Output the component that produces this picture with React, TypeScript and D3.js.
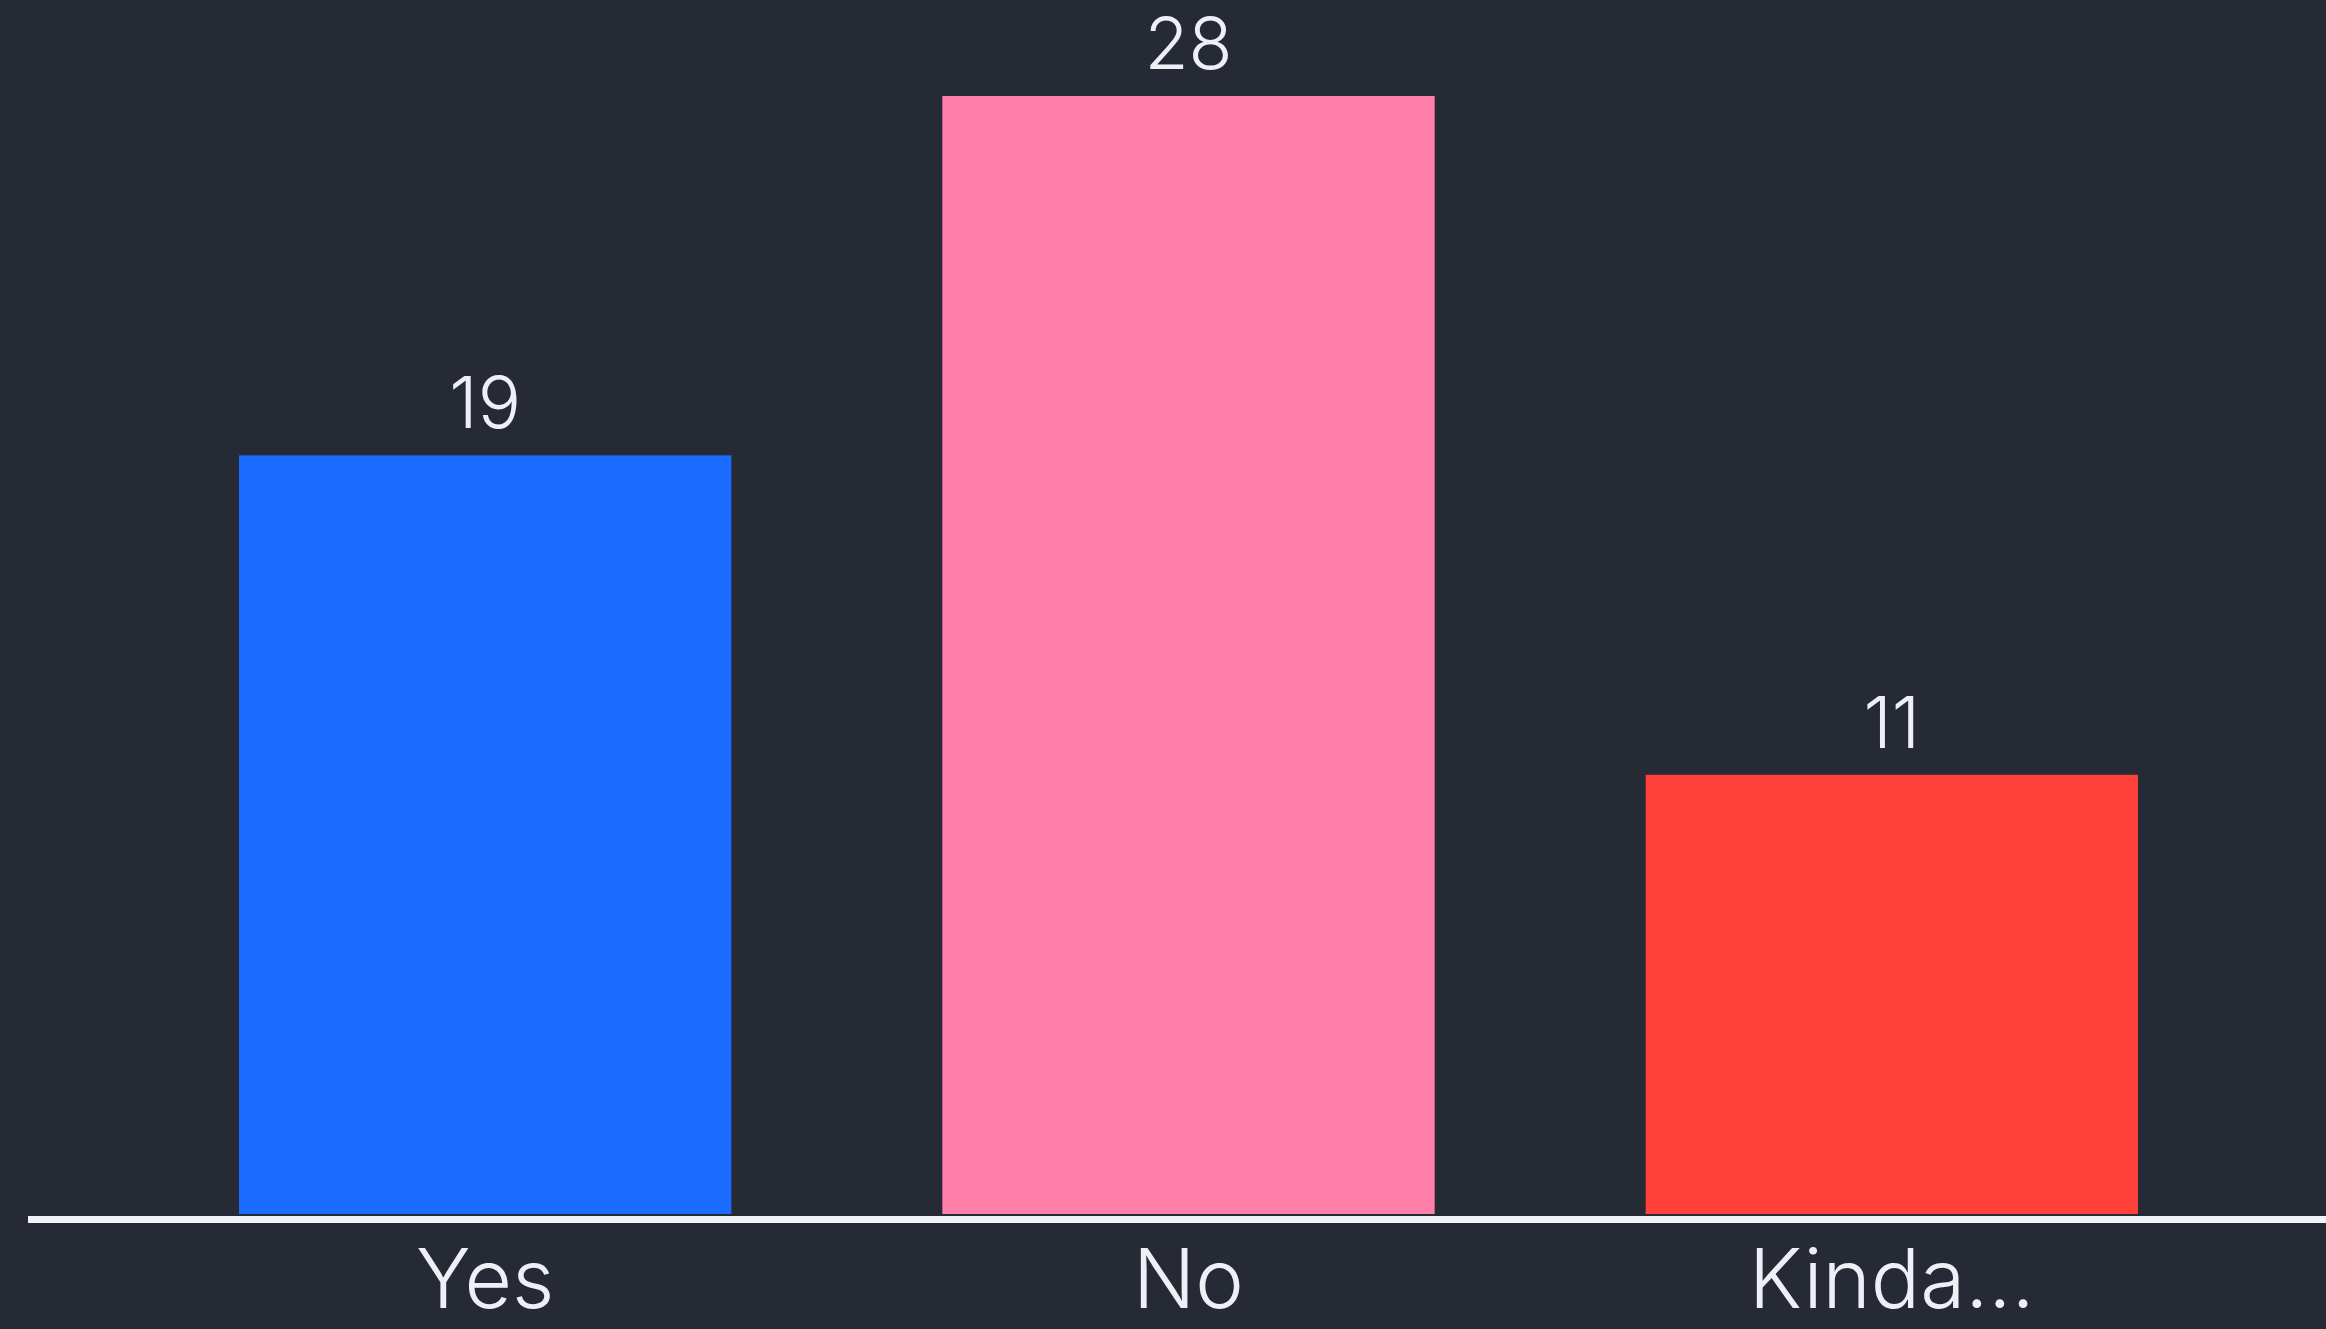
import React, { useRef, useEffect } from "react";
import * as d3 from "d3";

const categories = ["Yes", "No", "Kinda..."];
const counts = [19, 28, 11];
const barColors = ["#1a6bff", "#ff7eaa", "#ff403b"];

const WIDTH = 2326;
const HEIGHT = 1329;
const FONT = "Inter, 'Noto Sans', sans-serif";

const App: React.FC = () => {
    const svgRef = useRef<SVGSVGElement | null>(null);

    useEffect(() => {
        const svg = d3.select(svgRef.current);
        svg.selectAll("*").remove();

        const baseY = 1214;

        const x = d3
            .scaleBand<string>()
            .domain(categories)
            .range([28, 2349])
            .paddingInner(0.3)
            .paddingOuter(0.3);

        const y = d3
            .scaleLinear()
            .domain([0, d3.max(counts) as number])
            .range([baseY, 96]);

        const color = d3.scaleOrdinal<string, string>().domain(categories).range(barColors);

        const data = categories.map((c, i) => ({ cat: c, value: counts[i] }));

        svg.append("rect")
            .attr("width", WIDTH)
            .attr("height", HEIGHT)
            .attr("fill", "#262a35");

        svg.append("g")
            .selectAll("rect")
            .data(data)
            .join("rect")
            .attr("x", (d) => x(d.cat) as number)
            .attr("y", (d) => y(d.value))
            .attr("width", x.bandwidth())
            .attr("height", (d) => baseY - y(d.value))
            .attr("fill", (d) => color(d.cat));

        // value labels above the bars
        svg.append("g")
            .selectAll("text")
            .data(data)
            .join("text")
            .attr("x", (d) => (x(d.cat) as number) + x.bandwidth() / 2)
            .attr("y", (d) => y(d.value) - 27)
            .attr("text-anchor", "middle")
            .attr("font-family", FONT)
            .attr("font-weight", 350)
            .attr("font-size", 72)
            .attr("fill", "#eef0f6")
            .text((d) => d.value);

        // baseline
        svg.append("line")
            .attr("x1", 28)
            .attr("x2", WIDTH)
            .attr("y1", 1219.5)
            .attr("y2", 1219.5)
            .attr("stroke", "#f2f3f8")
            .attr("stroke-width", 7);

        // category labels
        svg.append("g")
            .selectAll("text")
            .data(categories)
            .join("text")
            .attr("x", (d) => (x(d) as number) + x.bandwidth() / 2)
            .attr("y", 1308)
            .attr("text-anchor", "middle")
            .attr("font-family", FONT)
            .attr("font-weight", 350)
            .attr("font-size", 82)
            .attr("fill", "#eef0f6")
            .text((d) => d);

        return () => {
            svg.selectAll("*").remove();
        };
    }, []);

    return (
        <svg
            ref={svgRef}
            width={WIDTH}
            height={HEIGHT}
            style={{ position: "fixed", left: 0, top: 0, display: "block" }}
        ></svg>
    );
};

export default App;
